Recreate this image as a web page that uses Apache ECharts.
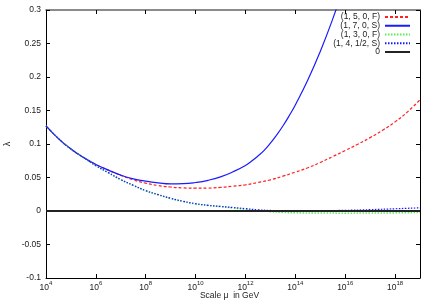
<!DOCTYPE html>
<html><head><meta charset="utf-8">
<script src="https://cdn.jsdelivr.net/npm/echarts@6/dist/echarts.min.js"></script>
<style>html,body{margin:0;padding:0;background:#fff}#c{width:436px;height:305px}</style>
</head><body><div id="c"></div>
<script>
// x values are log10(mu / GeV)
const xExpTicks = [4, 6, 8, 10, 12, 14, 16, 18];
const yTicks = [-0.1, -0.05, 0, 0.05, 0.1, 0.15, 0.2, 0.25, 0.3];

const names = ['(1, 5, 0, F)', '(1, 7, 0, S)', '(1, 3, 0, F)', '(1, 4, 1/2, S)', '0'];

// (1, 5, 0, F)
const xF5 = [4, 4.5, 5, 5.5, 6, 6.5, 7, 7.5, 8, 8.5, 9, 9.5, 10, 10.5, 11, 11.5, 12, 12.5, 13, 13.5, 14, 14.5, 15, 15.5, 16, 16.5, 17, 17.5, 18, 18.5, 19];
const yF5 = [0.127, 0.108, 0.0925, 0.080, 0.0695, 0.061, 0.0532, 0.0465, 0.0415, 0.038, 0.0358, 0.0345, 0.034, 0.0342, 0.0352, 0.037, 0.039, 0.0425, 0.0465, 0.052, 0.058, 0.0645, 0.0725, 0.0812, 0.0902, 0.0995, 0.1095, 0.1205, 0.133, 0.148, 0.166];

// (1, 7, 0, S)
const xS7 = [4, 4.5, 5, 5.5, 6, 6.5, 7, 7.5, 8, 8.5, 9, 9.5, 10, 10.5, 11, 11.5, 12, 12.25, 12.5, 12.75, 13, 13.25, 13.5, 13.75, 14, 14.5, 15, 15.5, 16];
const yS7 = [0.127, 0.108, 0.0925, 0.080, 0.0695, 0.061, 0.0535, 0.048, 0.0445, 0.042, 0.0405, 0.0408, 0.0425, 0.0458, 0.051, 0.0585, 0.068, 0.0745, 0.082, 0.0905, 0.1012, 0.1134, 0.1269, 0.1419, 0.1583, 0.1954, 0.2382, 0.2867, 0.341];

// (1, 3, 0, F)
const xF3 = [4, 4.5, 5, 5.5, 6, 6.5, 7, 7.5, 8, 8.5, 9, 9.5, 10, 10.5, 11, 11.5, 12, 12.5, 13, 13.5, 14, 15, 16, 17, 18, 19];
const yF3 = [0.127, 0.108, 0.0925, 0.080, 0.0675, 0.057, 0.0465, 0.038, 0.030, 0.024, 0.0185, 0.014, 0.0105, 0.0082, 0.0065, 0.0045, 0.0025, 0.0008, -0.001, -0.002, -0.0027, -0.003, -0.0032, -0.003, -0.0028, -0.0022];

// (1, 4, 1/2, S)
const xS4 = [4, 4.5, 5, 5.5, 6, 6.5, 7, 7.5, 8, 8.5, 9, 9.5, 10, 10.5, 11, 11.5, 12, 12.5, 13, 13.5, 14, 15, 16, 17, 18, 19];
const yS4 = [0.127, 0.108, 0.0925, 0.080, 0.0678, 0.0573, 0.047, 0.0385, 0.0305, 0.0245, 0.019, 0.0145, 0.011, 0.0085, 0.0068, 0.0052, 0.0035, 0.0018, 0.0008, 0.0003, 0.0002, 0.0004, 0.001, 0.002, 0.0033, 0.0048];

// zero line
const xZero = [4, 19];
const yZero = [0, 0];

const pair = (xs, ys) => xs.map((x, i) => [x, ys[i]]);
const FONT = 'Liberation Sans, Arial, Helvetica, sans-serif';

const chart = echarts.init(document.getElementById('c'), null, {renderer: 'canvas'});
const lineSeries = (name, xs, ys, color, width, type) => ({
  name, type: 'line', data: pair(xs, ys), symbol: 'none', smooth: true, clip: true,
  lineStyle: {color, width, type}, itemStyle: {color}, emphasis: {disabled: true}
});

chart.setOption({
  animation: false,
  textStyle: {fontFamily: FONT},
  grid: {left: 46, right: 16, top: 10, bottom: 27, containLabel: false, outerBoundsMode: 'none'},
  legend: {
    orient: 'vertical', right: 25, top: 12.5, align: 'right', padding: 0,
    itemWidth: 25, itemHeight: 8, itemGap: -0.25,
    itemStyle: {opacity: 0},
    textStyle: {fontSize: 8.5, lineHeight: 8, color: '#222', fontFamily: FONT},
    data: names
  },
  xAxis: [{
    type: 'value', min: 4, max: 19, interval: 2,
    name: 'Scale \u03bc  in GeV', nameLocation: 'middle', nameGap: 13, nameMoveOverlap: false,
    nameTextStyle: {fontSize: 8.5, color: '#222', fontFamily: FONT, padding: [0, 7, 0, 0]},
    axisLine: {onZero: false, lineStyle: {color: '#000', width: 1}},
    axisTick: {inside: true, length: 4, lineStyle: {color: '#000'},
      customValues: xExpTicks},
    axisLabel: {margin: 2, customValues: xExpTicks,
      formatter: v => xExpTicks.includes(v) ? '{b|10}{s|' + v + '}' : '',
      rich: {
        b: {fontSize: 8.5, lineHeight: 12, verticalAlign: 'bottom', color: '#222', fontFamily: FONT},
        s: {fontSize: 6, lineHeight: 6, verticalAlign: 'top', color: '#222', fontFamily: FONT}
      }},
    splitLine: {show: false}
  }, {
    type: 'value', position: 'top', min: 4, max: 19, interval: 2,
    axisLine: {onZero: false, lineStyle: {color: '#666', width: 1.5}},
    axisTick: {inside: true, length: 4, lineStyle: {color: '#000'}, customValues: xExpTicks},
    axisLabel: {show: false}, splitLine: {show: false}
  }],
  yAxis: [{
    type: 'value', min: -0.1, max: 0.3, interval: 0.05,
    name: '\u03bb', nameLocation: 'middle', nameGap: 34, nameRotate: 90, nameMoveOverlap: false,
    nameTextStyle: {fontSize: 9, color: '#222', fontFamily: FONT},
    axisLine: {show: true, onZero: false, lineStyle: {color: '#000', width: 1}},
    axisTick: {show: true, inside: true, length: 4, lineStyle: {color: '#000'}},
    axisLabel: {fontSize: 8.5, color: '#222', margin: 5, customValues: yTicks,
      formatter: v => String(Math.round(v * 100) / 100)},
    splitLine: {show: false}
  }, {
    type: 'value', position: 'right', min: -0.1, max: 0.3, interval: 0.05,
    axisLine: {show: true, onZero: false, lineStyle: {color: '#000', width: 1}},
    axisTick: {show: true, inside: true, length: 4, lineStyle: {color: '#000'}},
    axisLabel: {show: false}, splitLine: {show: false}
  }],
  series: [
    lineSeries(names[0], xF5, yF5, '#ff2020', 1.2, [3, 2]),
    lineSeries(names[1], xS7, yS7, '#1a1aff', 1.2, 'solid'),
    lineSeries(names[2], xF3, yF3, '#55ee55', 1.5, [1.5, 1.5]),
    lineSeries(names[3], xS4, yS4, '#1a1aff', 1.2, [1.5, 1.5]),
    lineSeries(names[4], xZero, yZero, '#222222', 2, 'solid')
  ]
});
</script></body></html>
